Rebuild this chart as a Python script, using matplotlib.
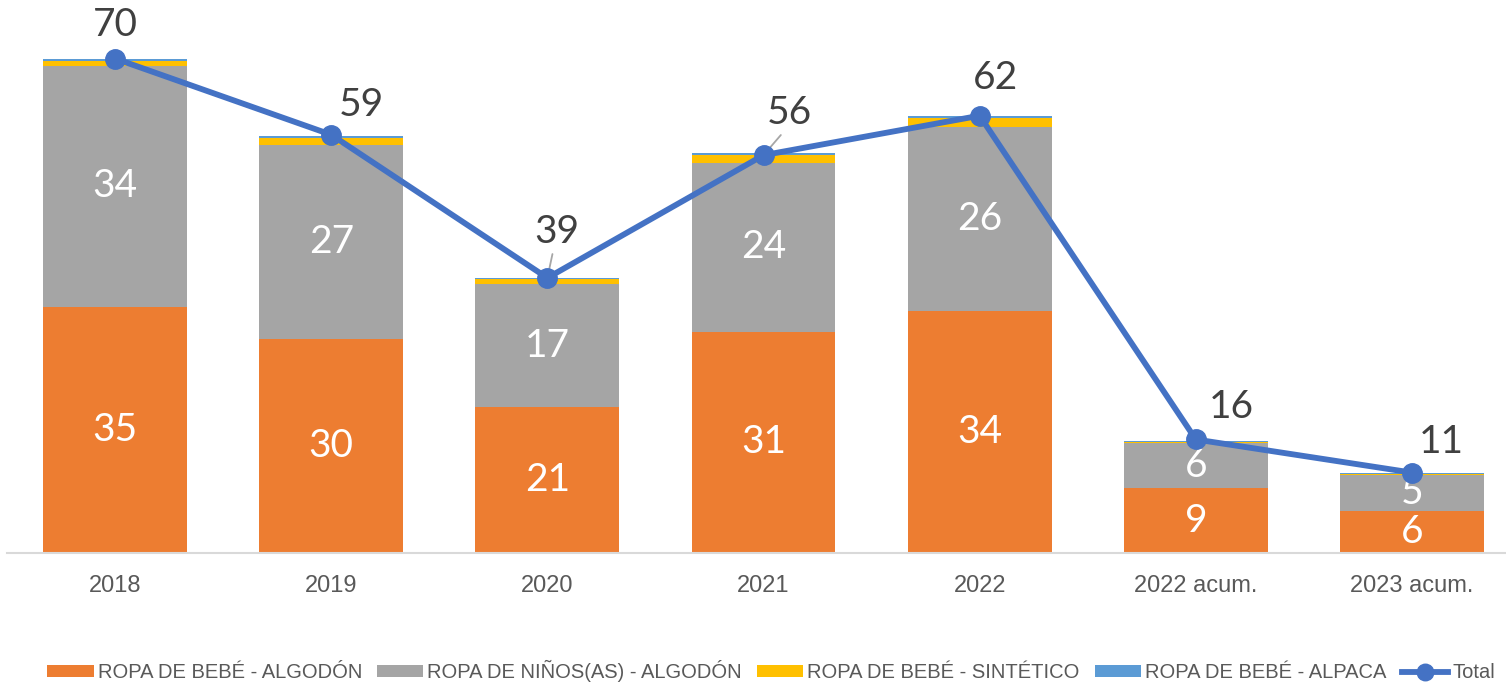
import numpy as np
import matplotlib.pyplot as plt
from matplotlib import font_manager

years = ['2018', '2019', '2020', '2021', '2022', '2022 acum.', '2023 acum.']
bebe_algodon = [34.9, 30.4, 20.7, 31.4, 34.3, 9.2, 6.0]
ninos_algodon = [34.2, 27.4, 17.4, 23.9, 26.1, 6.4, 5.1]
bebe_sintetico = [0.7, 1.1, 0.7, 1.1, 1.3, 0.2, 0.15]
bebe_alpaca = [0.3, 0.2, 0.15, 0.3, 0.25, 0.05, 0.05]
totals = [70.1, 59.3, 39.0, 56.4, 62.0, 16.1, 11.4]

series_names = ['ROPA DE BEBÉ - ALGODÓN', 'ROPA DE NIÑOS(AS) - ALGODÓN',
                'ROPA DE BEBÉ - SINTÉTICO', 'ROPA DE BEBÉ - ALPACA']
colors = ['#ED7D31', '#A5A5A5', '#FFC000', '#5B9BD5']
line_color = '#4472C4'

# label offsets for the total line (pixels)
total_offsets = [(0, 34), (30, 30), (9, 46), (26, 42), (16, 38), (36, 32), (29, 31)]
leader = [False, False, True, True, False, False, False]

installed = {f.name for f in font_manager.fontManager.ttflist}
legend_font = 'Liberation Sans Narrow' if 'Liberation Sans Narrow' in installed else 'Liberation Sans'
legend_size = 17 if legend_font == 'Liberation Sans Narrow' else 14.5

fig = plt.figure(figsize=(15.06, 6.83), dpi=100)
ax = fig.add_axes([7 / 1506, 130 / 683, 1513 / 1506, 529 / 683])

x = np.arange(len(years))
width = 0.666
bottom = np.zeros(len(years))
stack = [bebe_algodon, ninos_algodon, bebe_sintetico, bebe_alpaca]
for vals, name, c in zip(stack, series_names, colors):
    vals = np.array(vals)
    ax.bar(x, vals, width, bottom=bottom, color=c, label=name, zorder=2)
    if name in series_names[:2]:
        for xi, b, v in zip(x, bottom, vals):
            ax.text(xi, b + v / 2, f'{v:.0f}', ha='center', va='center',
                    color='white', fontsize=28, family='Lato', zorder=3)
    bottom += vals

ax.plot(x, totals, color=line_color, lw=4.2, marker='o', markersize=14,
        label='Total', zorder=5)
for xi, t, off, ld in zip(x, totals, total_offsets, leader):
    props = None
    if ld:
        props = dict(arrowstyle='-', color='#A6A6A6', lw=1.3, shrinkA=1, shrinkB=0,
                     relpos=(0.45, 0.1))
    ax.annotate(f'{t:.0f}', (xi, t), xytext=off, textcoords='offset pixels',
                ha='center', va='center', fontsize=28, family='Lato',
                color='#404040', arrowprops=props, zorder=4)

ax.set_xlim(-0.5, len(years) - 0.5)
ax.set_ylim(0, 75)
ax.set_xticks(x)
ax.set_xticklabels(years, fontsize=17, family='Liberation Sans', color='#595959')
ax.tick_params(axis='x', length=0, pad=16)
ax.set_yticks([])
for s in ['top', 'right', 'left']:
    ax.spines[s].set_visible(False)
ax.spines['bottom'].set_color('#D9D9D9')
ax.spines['bottom'].set_linewidth(1.5)

# bars first, then the line
handles, labels = ax.get_legend_handles_labels()
order = [labels.index(n) for n in series_names + ['Total']]
fig.legend([handles[i] for i in order], [labels[i] for i in order],
           loc='center', bbox_to_anchor=(0.512, 12 / 683), ncol=5,
           frameon=False, prop={'family': legend_font, 'size': legend_size},
           labelcolor='#595959', handlelength=2.3, handleheight=0.5,
           handletextpad=0.2, columnspacing=0.75, borderaxespad=0,
           markerscale=0.85)

fig.savefig('out.png', dpi=100)
